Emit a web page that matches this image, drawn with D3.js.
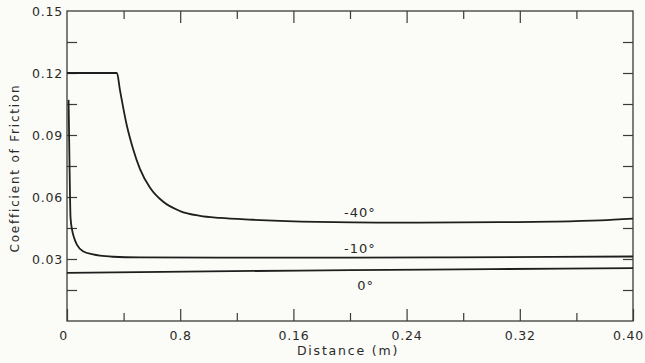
<!DOCTYPE html>
<html>
<head>
<meta charset="utf-8">
<script src="https://cdn.jsdelivr.net/npm/d3@7"></script>
<style>
  html, body { margin: 0; padding: 0; background: #fbfbf7; }
  svg { display: block; }
  text { font-family: "DejaVu Sans", sans-serif; fill: #2a2a2a; }
</style>
</head>
<body>
<svg id="chart" width="645" height="363"></svg>
<script>
// values
const xMajor = [0, 0.08, 0.16, 0.24, 0.32, 0.40];
const xMajorLabels = ["0", "0.8", "0.16", "0.24", "0.32", "0.40"];
const xMinor = [0.04, 0.12, 0.20, 0.28, 0.36];
const yTicks = [0, 0.015, 0.03, 0.045, 0.06, 0.075, 0.09, 0.105, 0.12, 0.135, 0.15];
const yLabelTicks = [0.03, 0.06, 0.09, 0.12, 0.15];
const yLabels = ["0.03", "0.06", "0.09", "0.12", "0.15"];

const dist40 = [0, 0.0353, 0.0374, 0.0424, 0.0466, 0.0516, 0.0587, 0.0678, 0.0799, 0.094, 0.108, 0.131, 0.155, 0.202, 0.249, 0.306, 0.343, 0.377, 0.40];
const cof40 = [0.12, 0.12, 0.1118, 0.0942, 0.0835, 0.0735, 0.0645, 0.0578, 0.0532, 0.0509, 0.0499, 0.049, 0.0483, 0.0477, 0.0476, 0.0478, 0.0481, 0.0487, 0.0495];

const dist10 = [0.0011, 0.0018, 0.0025, 0.0035, 0.0049, 0.0071, 0.0113, 0.0184, 0.0233, 0.0325, 0.0516, 0.108, 0.202, 0.271, 0.343, 0.40];
const cof10 = [0.107, 0.075, 0.05, 0.0445, 0.0405, 0.0368, 0.0337, 0.0322, 0.0316, 0.0311, 0.0308, 0.0307, 0.0307, 0.0308, 0.031, 0.0312];

const dist0 = [0, 0.1, 0.2, 0.3, 0.40];
const cof0 = [0.0233, 0.024, 0.0246, 0.0251, 0.0256];

const seriesNames = ["-40°", "-10°", "0°"];
// label anchors (distance, coefficient) where the curve names sit
const labelDist = [0.207, 0.207, 0.211];
const labelCof = [0.0505, 0.033, 0.015];

const svg = d3.select("#chart");
const width = 645, height = 363;
const margin = { top: 11, right: 12, bottom: 42, left: 67 };
const innerW = width - margin.left - margin.right;
const innerH = height - margin.top - margin.bottom;

const x = d3.scaleLinear().domain([0, 0.4]).range([0, innerW]);
const y = d3.scaleLinear().domain([0, 0.15]).range([innerH, 0]);

const g = svg.append("g").attr("transform", `translate(${margin.left},${margin.top})`);

// frame
g.append("rect")
  .attr("width", innerW).attr("height", innerH)
  .attr("fill", "none").attr("stroke", "#3a3a3a").attr("stroke-width", 1.3);

function styleAxis(sel) {
  sel.select(".domain").remove();
  sel.selectAll(".tick line").attr("stroke", "#3a3a3a").attr("stroke-width", 1.2);
  sel.selectAll(".tick text").attr("font-size", 12.5).attr("letter-spacing", 0.8).style("fill", "#2a2a2a");
}

// bottom axis: major with labels, minor without
g.append("g").attr("transform", `translate(0,${innerH})`)
  .call(d3.axisBottom(x).tickValues(xMajor).tickSize(-12).tickPadding(10)
    .tickFormat((d, i) => xMajorLabels[i]))
  .call(styleAxis)
  .call(s => s.selectAll(".tick text").attr("dx", (d, i) => i === 0 ? -4 : (i === xMajor.length - 1 ? -5 : 0)));
g.append("g").attr("transform", `translate(0,${innerH})`)
  .call(d3.axisBottom(x).tickValues(xMinor).tickSize(-8).tickFormat(""))
  .call(styleAxis);

// top axis
g.append("g")
  .call(d3.axisTop(x).tickValues(xMajor.slice(1, -1)).tickSize(-12).tickFormat(""))
  .call(styleAxis);
g.append("g")
  .call(d3.axisTop(x).tickValues(xMinor).tickSize(-8).tickFormat(""))
  .call(styleAxis);

// left axis
g.append("g")
  .call(d3.axisLeft(y).tickValues(yTicks.slice(1, -1)).tickSize(-10).tickFormat(""))
  .call(styleAxis);
g.append("g")
  .call(d3.axisLeft(y).tickValues(yLabelTicks).tickSize(0).tickPadding(4)
    .tickFormat((d, i) => yLabels[i]))
  .call(styleAxis);

// right axis
g.append("g").attr("transform", `translate(${innerW},0)`)
  .call(d3.axisRight(y).tickValues(yTicks.slice(1, -1)).tickSize(-10).tickFormat(""))
  .call(styleAxis);

// curves
const line = d3.line()
  .x(d => x(d[0]))
  .y(d => y(d[1]))
  .curve(d3.curveMonotoneX);

const series = [
  d3.zip(dist40, cof40),
  d3.zip(dist10, cof10),
  d3.zip(dist0, cof0)
];

g.append("g").selectAll("path")
  .data(series)
  .enter()
  .append("path")
  .attr("d", line)
  .attr("fill", "none")
  .attr("stroke", "#1e1e1e")
  .attr("stroke-width", 1.8);

g.append("g").selectAll("text")
  .data(seriesNames)
  .enter()
  .append("text")
  .attr("x", (d, i) => x(labelDist[i]))
  .attr("y", (d, i) => y(labelCof[i]))
  .attr("text-anchor", "middle")
  .attr("font-size", 13)
  .attr("letter-spacing", 1)
  .text(d => d);

// axis titles
svg.append("text")
  .attr("x", margin.left + x(0.2) - 2)
  .attr("y", 355)
  .attr("text-anchor", "middle")
  .attr("font-size", 12.5)
  .attr("letter-spacing", 1.8)
  .text("Distance (m)");

svg.append("text")
  .attr("transform", `translate(19,${margin.top + y(0.075) + 2}) rotate(-90)`)
  .attr("text-anchor", "middle")
  .attr("font-size", 12)
  .attr("letter-spacing", 1.8)
  .text("Coefficient of Friction");
</script>
</body>
</html>
